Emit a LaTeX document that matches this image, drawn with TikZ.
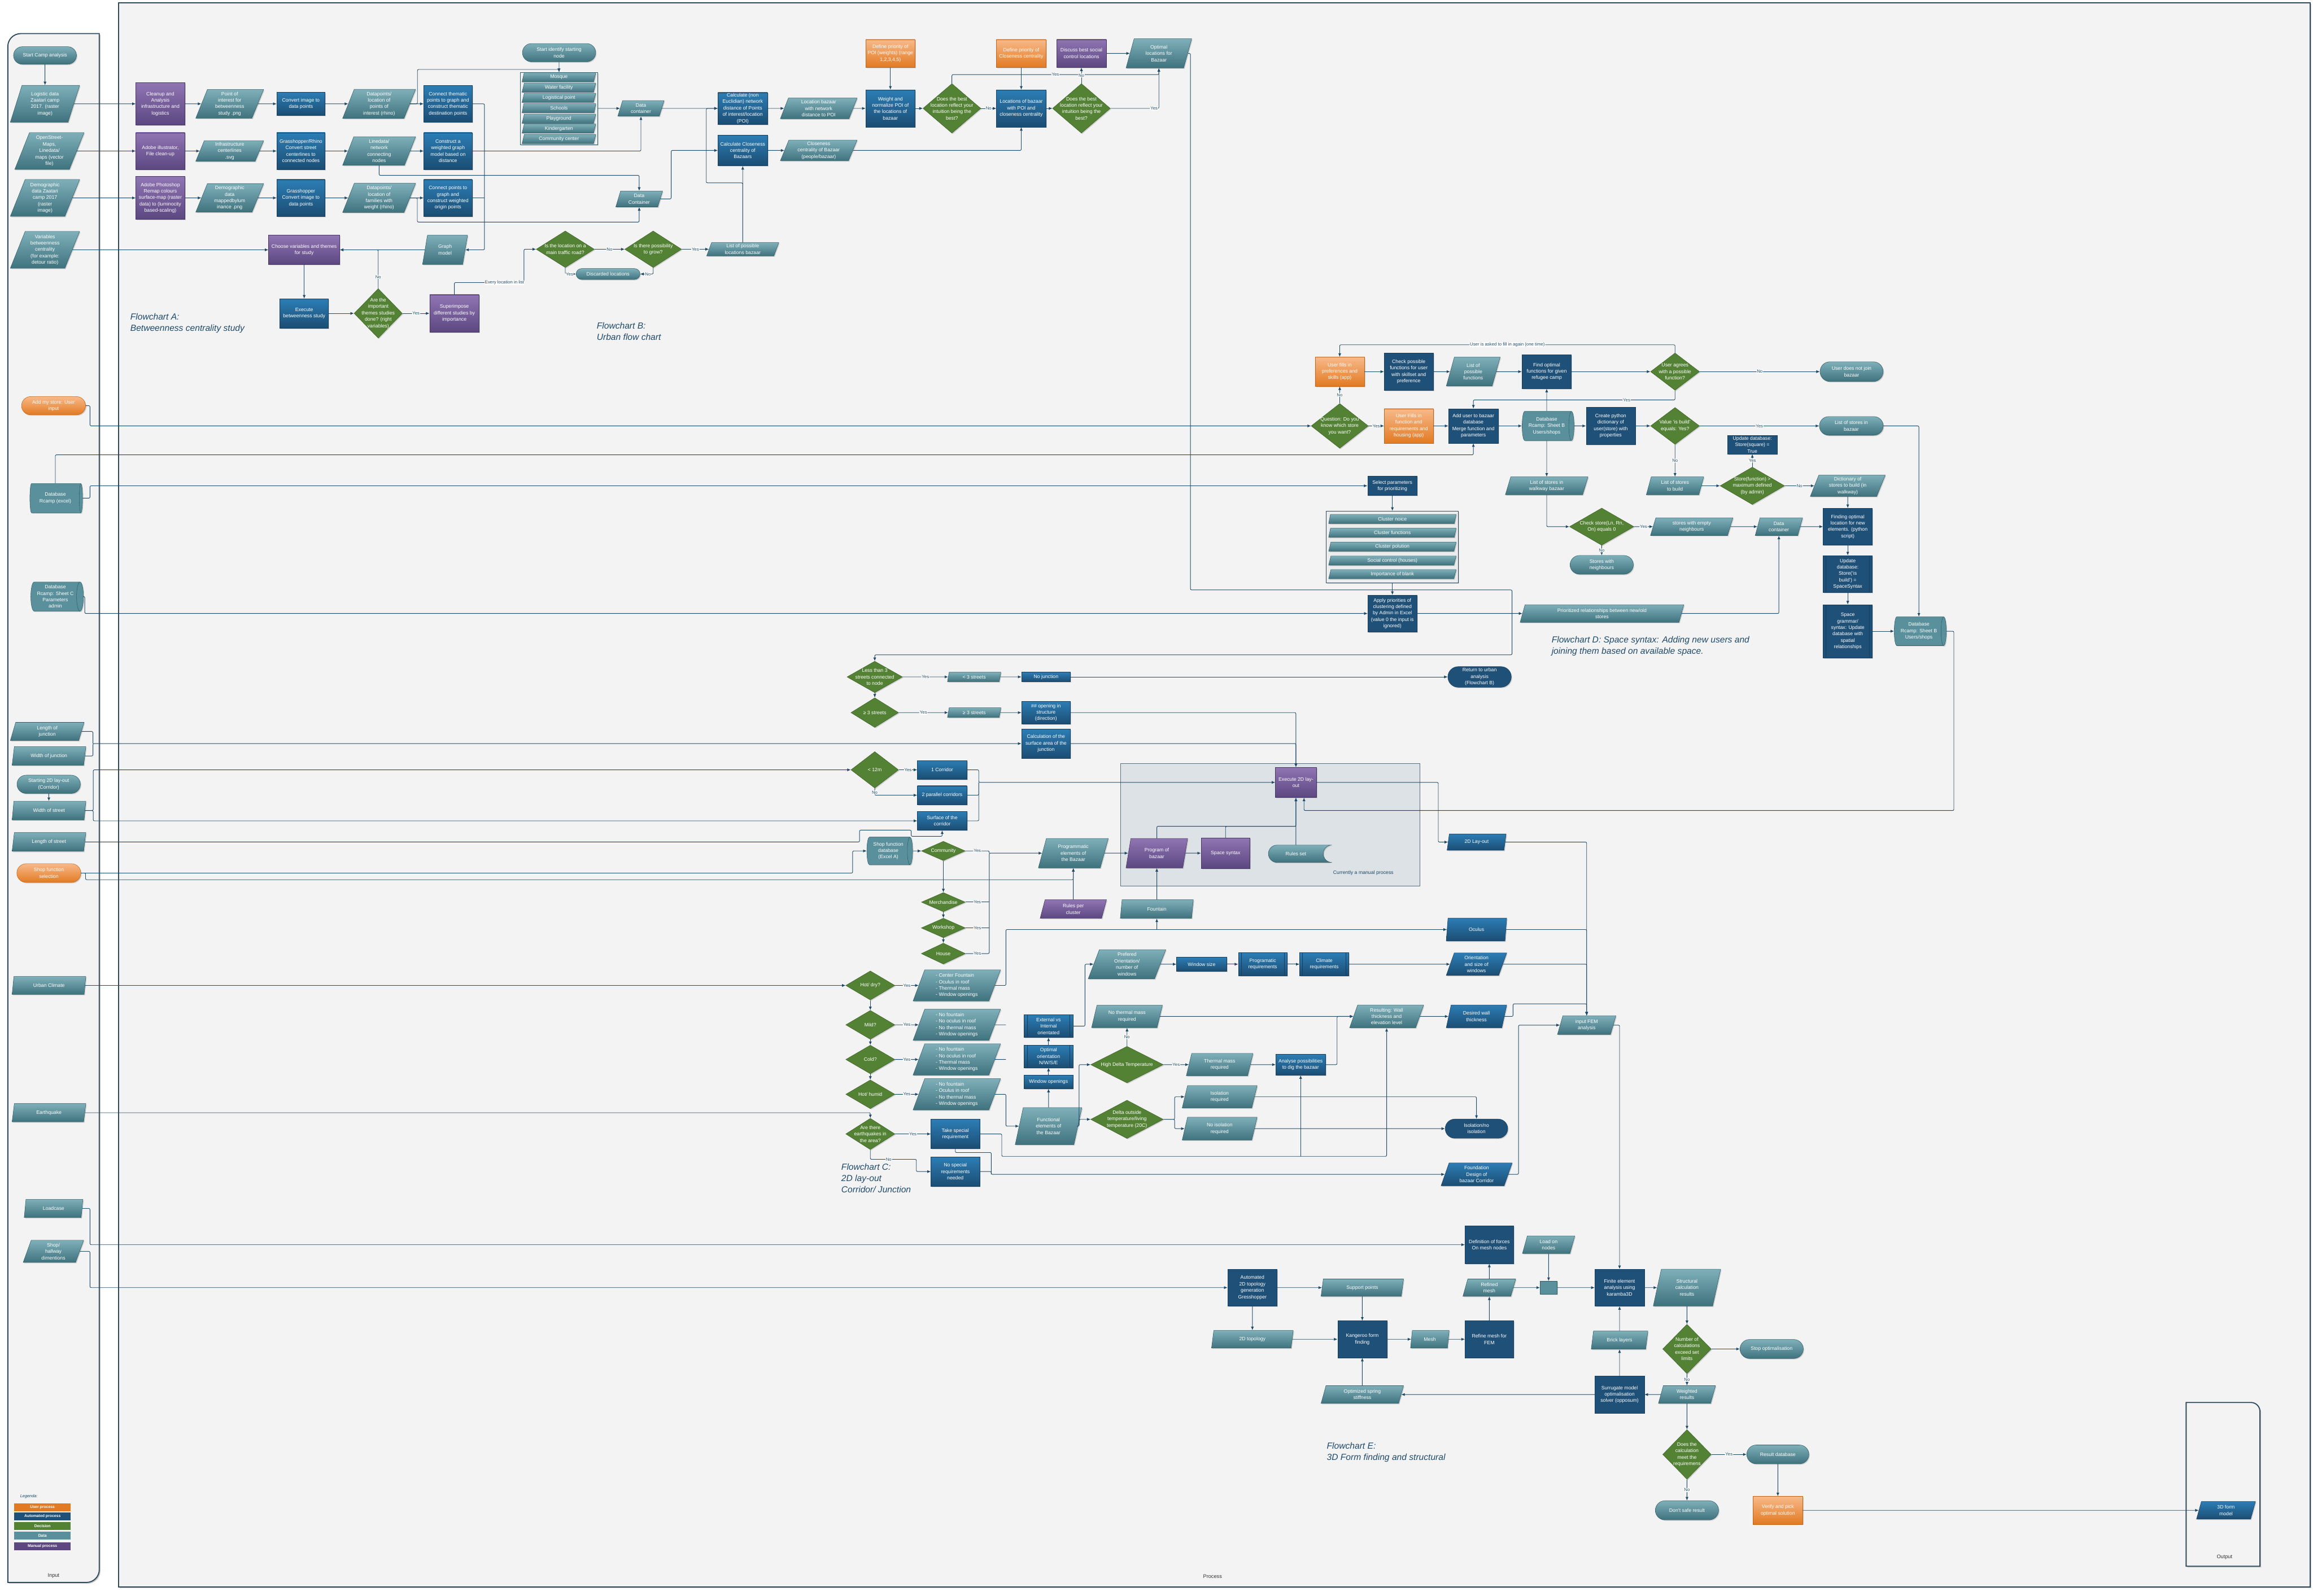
\documentclass[tikz,border=0pt]{standalone}
\usepackage{fontspec}
\setmainfont{Liberation Sans}
\usetikzlibrary{shapes.geometric,shapes.misc,arrows.meta,shadows}

\definecolor{tealtop}{HTML}{7FB0BA}
\definecolor{tealbot}{HTML}{3E727D}
\definecolor{tealmid}{HTML}{5A909B}
\definecolor{tealline}{HTML}{2F5E68}
\definecolor{bluetop}{HTML}{2C7DB5}
\definecolor{bluebot}{HTML}{1B4D73}
\definecolor{blueflat}{HTML}{1F5078}
\definecolor{blueline}{HTML}{173E5C}
\definecolor{purptop}{HTML}{9075B3}
\definecolor{purpbot}{HTML}{5C4781}
\definecolor{purpline}{HTML}{45355F}
\definecolor{greenfill}{HTML}{548235}
\definecolor{greenline}{HTML}{3D6127}
\definecolor{orangetop}{HTML}{F8B98A}
\definecolor{orangebot}{HTML}{E27A22}
\definecolor{orangeline}{HTML}{C0651A}
\definecolor{connc}{HTML}{1F4A66}
\definecolor{lanec}{HTML}{2E4A5A}
\definecolor{headc}{HTML}{1F4A6A}
\definecolor{procbg}{HTML}{F3F3F3}
\definecolor{manualbg}{HTML}{DDE2E7}

\newcommand\nodefont{\fontsize{9.5}{12.4}\selectfont}
\newcommand\labfont{\fontsize{8.5}{10}\selectfont}
\newcommand\headfont{\fontsize{17}{22}\selectfont\itshape}

\tikzset{
  >={Latex[length=2.4mm,width=2mm]},
  shad/.style={drop shadow={shadow xshift=0.6mm,shadow yshift=-0.6mm,opacity=0.3}},
  box/.style={font=\nodefont, text=white, align=center, line width=0.6pt, shad},
  dat/.style 2 args={box, trapezium, trapezium left angle=64, trapezium right angle=116,
    trapezium stretches body, minimum width=#1mm, minimum height=#2mm,
    inner xsep=0.3mm, inner ysep=0pt, top color=tealtop, bottom color=tealbot, draw=tealline},
  datb/.style 2 args={dat={#1}{#2}, top color=bluetop, bottom color=bluebot, draw=blueline},
  datp/.style 2 args={dat={#1}{#2}, top color=purptop, bottom color=purpbot, draw=purpline},
  datl/.style 2 args={dat={#1}{#2}, align=left},
  proc/.style 2 args={box, rectangle, minimum width=#1mm, minimum height=#2mm, inner sep=0.4mm,
    top color=bluetop, bottom color=bluebot, draw=blueline},
  flat/.style 2 args={box, rectangle, minimum width=#1mm, minimum height=#2mm, inner sep=0.4mm,
    fill=blueflat, draw=blueline},
  manual/.style 2 args={box, rectangle, minimum width=#1mm, minimum height=#2mm, inner sep=0.4mm,
    top color=purptop, bottom color=purpbot, draw=purpline},
  user/.style 2 args={box, rectangle, minimum width=#1mm, minimum height=#2mm, inner sep=0.4mm,
    top color=orangetop, bottom color=orangebot, draw=orangeline},
  decide/.style 2 args={box, diamond, minimum width=#1mm, minimum height=#2mm, inner sep=-25mm,
    fill=greenfill, draw=greenline},
  term/.style 2 args={box, rounded rectangle, minimum width=#1mm, minimum height=#2mm,
    inner xsep=-5mm, inner ysep=0pt, top color=tealtop, bottom color=tealbot, draw=tealline},
  termo/.style 2 args={term={#1}{#2}, top color=orangetop, bottom color=orangebot, draw=orangeline},
  termb/.style 2 args={box, rounded rectangle, minimum width=#1mm, minimum height=#2mm,
    inner xsep=-5mm, inner ysep=0pt, fill=blueflat, draw=blueline},
  % cylinder: height runs along the (horizontal) axis
  dbase/.style 2 args={box, cylinder, aspect=0.3, minimum height=#1mm, minimum width=#2mm,
    inner sep=0pt, fill=tealmid, draw=tealline},
  stored/.style 2 args={box, rounded rectangle, rounded rectangle right arc=concave,
    minimum width=#1mm, minimum height=#2mm, inner xsep=-5mm, inner ysep=0pt,
    top color=tealtop, bottom color=tealbot, draw=tealline},
  sidebars/.style={path picture={\draw[blueline, line width=0.6pt]
      ([xshift=2mm]path picture bounding box.north west) -- ([xshift=2mm]path picture bounding box.south west)
      ([xshift=-2mm]path picture bounding box.north east) -- ([xshift=-2mm]path picture bounding box.south east);}},
  predef/.style 2 args={proc={#1}{#2}, sidebars},
  predf/.style 2 args={flat={#1}{#2}, sidebars},
  poibar/.style={dat={50}{6.2}},
  clbar/.style={dat={86.4}{6.2}},
  conn/.style={draw=connc, line width=1pt, ->, rounded corners=0.8mm},
  wire/.style={draw=connc, line width=1pt, rounded corners=0.8mm},
  lab/.style={font=\labfont, text=connc, fill=white, inner sep=0.3mm},
  heading/.style={font=\headfont, text=headc, align=left, anchor=north west, inner sep=0pt},
  lane/.style={draw=lanec, line width=2pt, fill=procbg,
    drop shadow={shadow xshift=0.8mm,shadow yshift=-0.8mm,opacity=0.45}},
  lanelab/.style={font=\fontsize{10}{12}\selectfont, text=black!80},
  legbar/.style={font=\fontsize{7.5}{8}\selectfont\bfseries, text=white,
    minimum width=38.2mm, minimum height=5.2mm, inner sep=0pt},
}

\begin{document}
\begin{tikzpicture}[x=1mm, y=-1mm]
  \useasboundingbox (0,0) rectangle (1568,1082);
  \fill[white] (0,0) rectangle (1568,1082);

  % lanes
  \draw[lane] (80.5,2) rectangle (1566,1076);
  \draw[lane] (67.3,22.8) -- (14,22.8) arc[start angle=270, end angle=180, radius=8.7]
    -- (5.3,1073) -- (58.6,1073) arc[start angle=90, end angle=0, radius=8.7] -- cycle;
  \draw[lane] (1482,1062) -- (1482,951) -- (1526,951) arc[start angle=270, end angle=360, radius=6]
    -- (1532,1062) -- cycle;
  \node[lanelab] (inlab) at (36.3,1068.6) {Input};
  \node[lanelab] (proclab) at (822,1069) {Process};
  \node[lanelab] (outlab) at (1508,1056) {Output};

  % containers
  \draw[draw=lanec!80, line width=0.8pt, fill=manualbg] (759.5,517.7) rectangle (962.6,600.8);
  \node[font=\nodefont, text=connc] (manlab) at (924.2,591.8) {Currently a manual process};
  \node[draw=tealline, line width=0.8pt, fill=gray!12, minimum width=52.6mm, minimum height=49mm, shad] (poibox) at (378.9,73.5) {};
  \node[draw=lanec, line width=0.8pt, fill=gray!15, minimum width=89.5mm, minimum height=48.5mm, shad] (clusterbox) at (943.9,370.8) {};

  % ---------------- input lane
  \node[term={32.7}{11.9}] (startcamp) at (30.5,37.6) {Start Camp analysis};
  \node[dat={47}{25}] (logistic) at (30.5,70.4) {Logistic data\\Zaatari camp\\2017. (raster\\image)};
  \node[dat={47}{25}] (osm) at (33.5,102.4) {OpenStreet-\\Maps,\\Linedata/\\maps (vector\\file)};
  \node[dat={47}{25}] (demog) at (30.5,134.2) {Demographic\\data Zaatari\\camp 2017\\(raster\\image)};
  \node[dat={47}{25}] (variables) at (30.5,169.4) {Variables\\betweenness\\centrality\\(for example:\\detour ratio)};
  \node[termo={33.4}{12.4}] (addstore) at (36.3,275.1) {Add my store: User\\input};
  \node[dbase={35.7}{19.8}] (dbexcel) at (37.5,337.8) {Database\\Rcamp (excel)};
  \node[dbase={35.7}{19.8}] (dbsheetc) at (37.5,404.5) {Database\\Rcamp: Sheet C\\Parameters\\admin};
  \node[dat={50}{12.4}] (lenjunc) at (32,496) {Length of\\junction};
  \node[dat={50}{12.7}] (widjunc) at (33.2,512.6) {Width of junction};
  \node[term={33}{12.4}] (start2d) at (33,531.8) {Starting 2D lay-out\\(Corridor)};
  \node[dat={50}{12.7}] (widstreet) at (33.2,549.6) {Width of street};
  \node[dat={50}{12.7}] (lenstreet) at (33.2,570.9) {Length of street};
  \node[termo={33.4}{12.7}] (shopfn) at (33.1,592) {Shop function\\selection};
  \node[dat={50}{12.2}] (urbclim) at (33.2,668.2) {Urban Climate};
  \node[dat={50}{12.4}] (earthquake) at (33.2,754.5) {Earthquake};
  \node[dat={39.8}{12.4}] (loadcase) at (36.3,819.4) {Loadcase};
  \node[dat={41}{15}] (shophall) at (36.2,848.5) {Shop/\\hallway\\dimentions};

  % legend
  \node[font=\fontsize{8}{10}\selectfont\itshape, text=connc, anchor=west] (legtitle) at (12.5,1014.8) {Legenda:};
  \foreach \y/\c/\t [count=\i] in {1022/orangebot/User process, 1028.3/blueflat/Automated process,
      1034.7/greenfill/Decision, 1041.3/tealmid/Data / file, 1048.4/purpbot/Manual process}
    \node[legbar, fill=\c] (leg\i) at (28.8,\y) {\t};

  % ---------------- flowchart A
  \node[manual={33.2}{28.7}] (cleanup) at (108.7,70.4) {Cleanup and\\Analysis\\infrastructure and\\logistics};
  \node[manual={33.2}{25}] (adobeill) at (108.7,102.4) {Adobe illustrator,\\File clean-up};
  \node[manual={33.2}{29}] (photoshop) at (108.7,134.2) {Adobe Photoshop\\Remap colours\\surface-map (raster\\data) to (luminocity\\based-scaling)};
  \node[dat={46}{19.5}] (poi) at (155.7,70.4) {Point of\\interest for\\betweenness\\study .png};
  \node[dat={46}{14}] (infra) at (155.7,102.4) {Infrastructure\\centerlines\\.svg};
  \node[dat={46}{19.4}] (demogmap) at (155.7,134.2) {Demographic\\data\\mappedbylum\\inance .png};
  \node[proc={32.7}{15.5}] (convimg) at (204,70.4) {Convert image to\\data points};
  \node[proc={32.7}{25}] (ghrhino) at (204,102.4) {Grasshopper/Rhino\\Convert street\\centerlines to\\connected nodes};
  \node[proc={32.7}{25}] (ghconv) at (204,134.2) {Grasshopper\\Convert image to\\data points};
  \node[dat={49.5}{19.8}] (dp1) at (257,70.4) {Datapoints/\\location of\\points of\\interest (rhino)};
  \node[dat={49.5}{19.4}] (linedata) at (257,102.4) {Linedata/\\network\\connecting\\nodes};
  \node[dat={49.5}{19.8}] (dp2) at (257,134.2) {Datapoints/\\location of\\families with\\weight (rhino)};
  \node[manual={48.2}{19.8}] (choose) at (206.2,169.4) {Choose variables and themes\\for study};
  \node[proc={33}{19.8}] (execute) at (206.2,212.5) {Execute\\betweenness study};
  \node[decide={32.7}{33.6}] (themes) at (256.4,212.5) {Are the\\important\\themes studies\\done? (right\\variables)};
  \node[heading] (headA) at (88.3,212.5) {Flowchart A:\\Betweenness centrality study};

  % ---------------- flowchart B
  \node[term={39.7}{12.4}] (startnode) at (379,35.7) {Start identify starting\\node};
  \foreach \y/\t [count=\i] in {52.4/Mosque, 59.4/Water facility, 66.3/Logistical point, 73.4/Schools,
      80.5/Playground, 87.2/Kindergarten, 94.3/Community center}
    \node[poibar] (poi\i) at (378.9,\y) {\t};
  \node[dat={31.4}{10.6}] (datacont1) at (434.5,73.5) {Data\\container};
  \node[proc={32.8}{25}] (connthem) at (303.7,70.4) {Connect thematic\\points to graph and\\construct thematic\\destination points};
  \node[proc={32.8}{25}] (constwg) at (303.7,102.4) {Construct a\\weighted graph\\model based on\\distance};
  \node[proc={32.8}{25}] (connpts) at (303.7,134.2) {Connect points to\\graph and\\construct weighted\\origin points};
  \node[dat={31.7}{10.8}] (datacont2) at (433.3,134.9) {Data\\Container};
  \node[dat={30.5}{19.8}] (graphmodel) at (301.7,169.4) {Graph\\model};
  \node[proc={33.6}{21.5}] (calcnet) at (503.5,73.5) {Calculate (non\\Euclidian) network\\distance of Points\\of interest/location\\(POI)};
  \node[proc={33.6}{20.9}] (calcclose) at (503.5,102) {Calculate Closeness\\centrality of\\Bazaars};
  \node[decide={39.4}{24.8}] (trafficq) at (383.2,169) {Is the location on a\\main traffic road?};
  \node[decide={38.5}{24.8}] (growq) at (442.8,169) {Is there possibility\\to grow?};
  \node[term={33.3}{7.4}] (discarded) at (412.2,185.8) {Discarded locations};
  \node[dat={48.9}{9}] (listbazaar) at (503.5,169) {List of possible\\locations bazaar};
  \node[manual={33.5}{25.4}] (superimpose) at (308,212.5) {Superimpose\\different studies by\\importance};
  \node[dat={52}{14}] (locbazaar) at (555,73.5) {Location bazaar\\with network\\distance to POI};
  \node[dat={52}{14}] (closebaz) at (555,102) {Closeness\\centrality of Bazaar\\(people/bazaar)};
  \node[user={33.4}{18.9}] (defpoi) at (603.6,36.2) {Define priority of\\POI (weights) (range\\1,2,3,4,5)};
  \node[proc={33.4}{25.2}] (weight) at (603.6,73.5) {Weight and\\normalize POI of\\the locations of\\bazaar};
  \node[decide={39.2}{33.6}] (int1) at (645.3,73.5) {Does the best\\location reflect your\\intuition being the\\best?};
  \node[user={33.5}{18.9}] (defclose) at (692.3,36.2) {Define priority of\\Closeness centrality};
  \node[proc={33.5}{25.2}] (locpoi) at (692.3,73.5) {Locations of bazaar\\with POI and\\closeness centrality};
  \node[decide={39.2}{33.6}] (int2) at (733.1,73.5) {Does the best\\location reflect your\\intuition being the\\best?};
  \node[manual={33.5}{18.9}] (discuss) at (733.1,36.2) {Discuss best social\\control locations};
  \node[dat={44.5}{19.8}] (optimal) at (785.6,36.2) {Optimal\\locations for\\Bazaar};
  \node[heading] (headB) at (404.5,218.5) {Flowchart B:\\Urban flow chart};

  % ---------------- flowchart D
  \node[user={33.3}{19.8}] (userfills) at (908.2,252) {User fills in\\preferences and\\skills (app)};
  \node[flat={33.3}{25}] (checkfn) at (955,252) {Check possible\\functions for user\\with skillset and\\preference};
  \node[dat={36.5}{19.6}] (listfn) at (998.7,252) {List of\\possible\\functions};
  \node[flat={33.5}{23}] (findopt) at (1048.5,252) {Find optimal\\functions for given\\refugee camp};
  \node[decide={33.2}{25.3}] (agrees) at (1135.5,252) {User agrees\\with a possible\\function?};
  \node[term={32.8}{13.4}] (notjoin) at (1255.2,252) {User does not join\\bazaar};
  \node[decide={38.7}{30.4}] (question) at (908.2,288.8) {Question: Do you\\know which store\\you want?};
  \node[user={33.3}{23.3}] (userfills2) at (955,288.8) {User Fills in\\function and\\requirements and\\housing (app)};
  \node[flat={33.6}{23.3}] (adduser) at (998.8,288.8) {Add user to bazaar\\database\\Merge function and\\parameters};
  \node[dbase={35.2}{19.8}] (db1) at (1048.5,288.8) {Database\\Rcamp: Sheet B\\Users/shops};
  \node[flat={33.3}{25}] (pydict) at (1091.9,288.8) {Create python\\dictionary of\\user(store) with\\properties};
  \node[decide={33.2}{25}] (value) at (1135.5,288.8) {Value ‘is build’\\equals: Yes?};
  \node[term={33.3}{12.7}] (liststoresbaz) at (1255,288.8) {List of stores in\\bazaar};
  \node[flat={33.5}{12.6}] (updatesq) at (1187.9,301.5) {Update database:\\Store(square) =\\True};
  \node[dat={38.9}{12.1}] (liststobuild) at (1135.5,329.4) {List of stores\\to build};
  \node[decide={43.7}{25.4}] (storefn) at (1187.9,329.4) {Store(function) >\\maximum defined\\(by admin)};
  \node[dat={50.8}{14.4}] (dict) at (1252.6,329.4) {Dictionary of\\stores to build (in\\walkway)};
  \node[flat={33.6}{12.9}] (selparam) at (943.9,329.4) {Select parameters\\for prioritizing};
  \foreach \y/\t [count=\i] in {351.9/Cluster noice, 361.3/Cluster functions, 370.7/Cluster polution,
      380.1/Social control (houses), 389.3/Importance of blank}
    \node[clbar] (cl\i) at (943.9,\y) {\t};
  \node[flat={33.3}{25}] (apply) at (943.9,416) {Apply priorities of\\clustering defined\\by Admin in Excel\\(value 0 the input is\\ignored)};
  \node[dat={111}{12}] (prioritized) at (1086,416) {Prioritized relationships between new/old\\stores};
  \node[dat={56}{12.1}] (liststores) at (1048.5,329.4) {List of stores in\\walkway bazaar};
  \node[decide={43.7}{25.2}] (checkstore) at (1085.8,357.1) {Check store(Ln, Rn,\\On) equals 0};
  \node[term={32.9}{12.7}] (neighbours) at (1085.8,383) {Stores with\\neighbours};
  \node[dat={55.9}{12}] (emptyneigh) at (1146.8,357.1) {stores with empty\\neighbours};
  \node[dat={32.1}{12}] (datacont3) at (1205.9,357.1) {Data\\container};
  \node[flat={33.4}{25}] (findloc) at (1252.6,357.1) {Finding optimal\\location for new\\elements. (python\\script)};
  \node[predf={33.4}{25}] (updbuild) at (1252.6,389.2) {Update\\database:\\Store(‘is\\build’) =\\SpaceSyntax};
  \node[predf={33.4}{36}] (spacegram) at (1252.6,428) {Space\\grammar/\\syntax: Update\\database with\\spatial\\relationships};
  \node[dbase={35.3}{19.5}] (db2) at (1300.8,428) {Database\\Rcamp: Sheet B\\Users/shops};
  \node[heading] (headD) at (1051.8,431.5) {Flowchart D: Space syntax: Adding new users and\\joining them based on available space.};

  % ---------------- flowchart C
  \node[decide={37.6}{21.3}] (less3) at (593,459) {Less than 3\\streets connected\\to node};
  \node[dat={36.2}{6.5}] (lt3) at (660.4,459) {< 3 streets};
  \node[proc={33.1}{6.5}] (nojunc) at (709.1,459) {No junction};
  \node[termb={33}{14}] (returnb) at (1003,459) {Return to urban\\analysis\\(Flowchart B)};
  \node[decide={32.3}{20.1}] (ge3) at (593,483.2) {≥ 3 streets};
  \node[dat={36.2}{6.6}] (ge3para) at (660.4,483.2) {≥ 3 streets};
  \node[proc={33.1}{15.4}] (opening) at (709.1,483.2) {\#\# opening in\\structure\\(direction)};
  \node[proc={33.1}{19.7}] (surfcalc) at (709.1,504.2) {Calculation of the\\surface area of the\\junction};
  \node[decide={32.3}{24.7}] (lt12) at (593,522) {< 12m};
  \node[proc={33.6}{12.7}] (corr1) at (638.7,522) {1 Corridor};
  \node[proc={33.6}{12.7}] (corr2) at (638.7,539.2) {2 parallel corridors};
  \node[proc={33.6}{12.7}] (surfcorr) at (638.7,556.6) {Surface of the\\corridor};
  \node[dbase={31}{18.8}] (shopdb) at (602.2,577) {Shop function\\database\\(Excel A)};
  \node[decide={29.7}{13.1}] (community) at (639.5,577) {Community};
  \node[decide={29.7}{13}] (merchandise) at (639.5,611.7) {Merchandise};
  \node[decide={29.9}{13.2}] (workshop) at (639.5,629.2) {Workshop};
  \node[decide={29.9}{14.2}] (house) at (639.5,646.6) {House};
  \node[dat={47.4}{20}] (progelements) at (727.6,578.5) {Programmatic\\elements of\\the Bazaar};
  \node[datp={41.8}{20}] (progbazaar) at (784.2,578.5) {Program of\\bazaar};
  \node[manual={33.1}{20.5}] (spacesyn) at (830.8,578.5) {Space syntax};
  \node[stored={33.1}{11.8}] (rulesset) at (878.5,578.9) {Rules set};
  \node[manual={27.8}{20.5}] (execute2d) at (878.5,530.5) {Execute 2D lay-\\out};
  \node[datp={45}{12.6}] (rulespc) at (727.6,616.4) {Rules per\\cluster};
  \node[dat={49.5}{12.6}] (fountain) at (784.2,616.4) {Fountain};
  \node[datb={40}{11}] (layout2d) at (1001,571) {2D Lay-out};

  \node[decide={33.3}{19.7}] (hotdry) at (590,668.2) {Hot/ dry?};
  \node[decide={33.3}{19.6}] (mild) at (590,694.9) {Mild?};
  \node[decide={33.3}{19.4}] (cold) at (590,718.4) {Cold?};
  \node[decide={33.3}{19.5}] (hothumid) at (590,742) {Hot/ humid};
  \node[decide={33.3}{21.2}] (earthq) at (590,768.9) {Are there\\earthquakes in\\the area?};
  \node[datl={59.3}{21.2}] (hdpara) at (648.6,668.2) {- Center Fountain\\- Oculus in roof\\- Thermal mass\\- Window openings};
  \node[datl={59.3}{21.2}] (mildpara) at (648.6,694.9) {- No fountain\\- No oculus in roof\\- No thermal mass\\- Window openings};
  \node[datl={59.3}{21.2}] (coldpara) at (648.6,718.4) {- No fountain\\- No oculus in roof\\- Thermal mass\\- Window openings};
  \node[datl={59.3}{21.2}] (humidpara) at (648.6,742) {- No fountain\\- Oculus in roof\\- No thermal mass\\- Window openings};
  \node[proc={33}{19.8}] (takespecial) at (647.6,768.9) {Take special\\requirement};
  \node[proc={33}{19.9}] (nospecial) at (647.6,794.4) {No special\\requirements\\needed};
  \node[dat={45.2}{25.2}] (functional) at (710.8,763.6) {Functional\\elements of\\the Bazaar};
  \node[proc={33}{9.1}] (winopen) at (710.8,733.6) {Window openings};
  \node[predef={33}{15.2}] (optorient) at (710.8,716.3) {Optimal\\orientation\\N/W/S/E};
  \node[predef={33}{15.3}] (extint) at (710.8,695.8) {External vs\\Internal\\orientated};
  \node[dat={52.6}{19.8}] (prefered) at (764,653.8) {Prefered\\Orientation/\\number of\\windows};
  \node[proc={33.9}{9.5}] (winsize) at (814.6,653.8) {Window size};
  \node[predef={33}{15.5}] (progreq) at (856,653.8) {Programatic\\requirements};
  \node[predef={33.3}{15.5}] (climreq) at (897.7,653.8) {Climate\\requirements};
  \node[dat={48}{15.2}] (nothermal) at (764,689.2) {No thermal mass\\required};
  \node[decide={49.2}{24.8}] (highdelta) at (764,721.9) {High Delta Temperature};
  \node[dat={45.2}{15.2}] (thermalreq) at (826.8,721.9) {Thermal mass\\required};
  \node[proc={33.6}{14.2}] (analyse) at (881.7,721.9) {Analyse possibilities\\to dig the bazaar};
  \node[dat={50.2}{15.5}] (resulting) at (940,689.2) {Resulting: Wall\\thickness and\\elevation level};
  \node[decide={49.2}{26}] (deltaout) at (764,759) {Delta outside\\temperature/living\\temperature (20C)};
  \node[dat={50.8}{15.2}] (isolreq) at (826.8,743.7) {Isolation\\required};
  \node[dat={50.8}{15.5}] (noisol) at (826.8,765.3) {No isolation\\required};
  \node[termb={32.4}{13}] (isolation) at (1000.9,765.3) {Isolation/no\\isolation};
  \node[datb={41}{15.5}] (oculus) at (1000.9,630.3) {Oculus};
  \node[datb={41}{15.3}] (orientsize) at (1000.9,653.8) {Orientation\\and size of\\windows};
  \node[datb={41}{15.5}] (desired) at (1000.9,689.2) {Desired wall\\thickness};
  \node[datb={48.2}{15.5}] (foundation) at (1001,796.3) {Foundation\\Design of\\bazaar Corridor};
  \node[dat={39.6}{12.7}] (inputfem) at (1075.6,695.1) {input FEM\\analysis};
  \node[heading] (headC) at (570.3,789) {Flowchart C:\\2D lay-out\\Corridor/ Junction};

  % ---------------- flowchart E
  \node[flat={32.9}{25.5}] (defforces) at (1009.6,844) {Definition of forces\\On mesh nodes};
  \node[dat={35.5}{12}] (loadnodes) at (1049.8,844) {Load on\\nodes};
  \node[flat={33.5}{25}] (auto2d) at (849,873.1) {Automated\\2D topology\\generation\\Gresshopper};
  \node[dat={55.9}{11.7}] (support) at (923.5,873.1) {Support points};
  \node[dat={55.4}{12}] (topo2d) at (849,908.1) {2D topology};
  \node[flat={33.4}{25}] (kangaroo) at (923.5,908.1) {Kangeroo form\\finding};
  \node[dat={26.2}{12}] (mesh) at (969.3,908.1) {Mesh};
  \node[flat={32.9}{25}] (refine) at (1009.6,908.1) {Refine mesh for\\FEM};
  \node[dat={35.8}{11.7}] (refined) at (1009.6,873.1) {Refined\\mesh};
  \node[dbase={11.6}{8.7}] (merge) at (1049.8,873.1) {};
  \node[flat={33.5}{25}] (finite) at (1097.9,873.1) {Finite element\\analysis using\\karamba3D};
  \node[dat={45.7}{25}] (structres) at (1143.6,873.1) {Structural\\calculation\\results};
  \node[decide={32.9}{33.5}] (numcalc) at (1143.6,914.7) {Number of\\calculations\\exceed set\\limits};
  \node[term={32.9}{12.9}] (stopopt) at (1201,914.7) {Stop optimalisation};
  \node[dat={38.7}{12}] (weighted) at (1143.6,945.6) {Weighted\\results};
  \node[flat={33.5}{25}] (surrogate) at (1097.9,945.6) {Surrugate model\\optimalisation\\solver (opposum)};
  \node[dat={38.4}{12.3}] (bricks) at (1097.9,908.7) {Brick layers};
  \node[dat={55.9}{12}] (optspring) at (923.5,945.6) {Optimized spring\\stiffness};
  \node[decide={32.9}{33.7}] (doesmeet) at (1143.6,986.2) {Does the\\calculation\\meet the\\requiremens};
  \node[term={32.1}{12.8}] (resultdb) at (1205.2,986.2) {Result database};
  \node[term={32.9}{13}] (dontsafe) at (1143.6,1024.1) {Don’t safe result};
  \node[user={33.5}{18.9}] (verify) at (1205.2,1024.1) {Verify and pick\\optimal solution};
  \node[datb={40}{12}] (model3d) at (1509,1024.1) {3D form\\model};
  \node[heading] (headE) at (899.4,978) {Flowchart E:\\3D Form finding and structural};

  % ---------------- connectors A
  \foreach \a/\b in {startcamp/logistic, logistic/cleanup, cleanup/poi, poi/convimg, convimg/dp1,
      osm/adobeill, adobeill/infra, infra/ghrhino, ghrhino/linedata,
      demog/photoshop, photoshop/demogmap, demogmap/ghconv, ghconv/dp2,
      variables/choose, choose/execute, execute/themes, graphmodel/choose}
    \draw[conn] (\a) -- (\b);
  \draw[conn] (themes.north) |- node[lab, pos=0.15]{No} (choose.east);
  \draw[conn] (themes) -- node[lab]{Yes} (superimpose);

  % ---------------- connectors B
  \foreach \a/\b in {dp1/connthem, linedata/constwg, dp2/connpts, startnode/poibox, poibox/datacont1,
      datacont1/calcnet, calcnet/locbazaar, calcclose/closebaz, listbazaar/calcclose, locbazaar/weight,
      defpoi/weight, weight/int1, defclose/locpoi, locpoi/int2, discuss/optimal}
    \draw[conn] (\a) -- (\b);
  \draw[conn] (dp1.east) -| (283,47.1) -| (poibox.north);
  \draw[conn] (linedata.south) -- (257,118.9) -| (datacont2.north);
  \draw[conn] (dp2.east) -| (282.9,150.6) -| (datacont2.south);
  \draw[conn] (connthem.east) -| (328.4,169.4) -- (graphmodel);
  \draw[wire] (constwg.east) -- (328.4,102.4);
  \draw[wire] (connpts.east) -- (328.4,134.2);
  \draw[conn] (constwg.east) -| (datacont1.south);
  \draw[conn] (datacont2.east) -| (455,102) -- (calcclose);
  \draw[conn] (listbazaar.north) |- (478.8,124) |- (calcnet.west);
  \draw[conn] (superimpose.north) |- node[lab, pos=0.86]{Every location in list} (355.2,191.6) |- (trafficq.west);
  \draw[conn] (trafficq) -- node[lab]{No} (growq);
  \draw[conn] (trafficq.south) |- node[lab, pos=0.7]{Yes} (discarded.west);
  \draw[conn] (growq.south) |- node[lab, pos=0.7]{No} (discarded.east);
  \draw[conn] (growq) -- node[lab]{Yes} (listbazaar);
  \draw[conn] (int1) -- node[lab]{No} (locpoi);
  \draw[conn] (closebaz.east) -| (locpoi.south);
  \draw[conn] (int1.north) |- node[lab, pos=0.75]{Yes} (785.6,50.6) -- (optimal.south);
  \draw[conn] (int2.north) -- node[lab]{No} (discuss.south);
  \draw[conn] (int2.east) -| node[lab, pos=0.45]{Yes} (optimal.south);

  % ---------------- connectors D
  \foreach \a/\b in {userfills/checkfn, checkfn/listfn, listfn/findopt, findopt/agrees,
      userfills2/adduser, adduser/db1, db1/pydict, pydict/value, db1/findopt, db1/liststores,
      liststobuild/storefn, emptyneigh/datacont3, datacont3/findloc, dict/findloc,
      findloc/updbuild, updbuild/spacegram, spacegram/db2, selparam/clusterbox,
      clusterbox/apply, apply/prioritized}
    \draw[conn] (\a) -- (\b);
  \draw[conn] (addstore.east) -| (61,288.8) -- (question.west);
  \draw[conn] (dbexcel.north) -- (37.5,308.4) -| (adduser.south);
  \draw[conn] (dbexcel.east) -| (61,329.4) -- (selparam.west);
  \draw[conn] (dbsheetc.east) -- (57.5,404.5) |- (apply.west);
  \draw[conn] (optimal.east) -| (807,400) -| (1025,444) -| (less3.north);
  \draw[conn] (question.north) -- node[lab]{No} (userfills.south);
  \draw[conn] (question) -- node[lab]{Yes} (userfills2);
  \draw[conn] (agrees) -- node[lab]{No} (notjoin);
  \draw[conn] (agrees.south) |- node[lab, pos=0.62]{Yes} (998.8,271.2) -- (adduser.north);
  \draw[conn] (agrees.north) |- node[lab, pos=0.75]{User is asked to fill in again (one time)} (908.2,233.8) -- (userfills.north);
  \draw[conn] (value) -- node[lab]{Yes} (liststoresbaz);
  \draw[conn] (value) -- node[lab]{No} (liststobuild);
  \draw[conn] (storefn) -- node[lab]{Yes} (updatesq);
  \draw[conn] (storefn) -- node[lab]{No} (dict);
  \draw[conn] (liststores.south) |- (checkstore.west);
  \draw[conn] (checkstore) -- node[lab]{No} (neighbours);
  \draw[conn] (checkstore) -- node[lab]{Yes} (emptyneigh);
  \draw[conn] (liststoresbaz.east) -| (db2.north);
  \draw[conn] (prioritized.east) -| (datacont3.south);
  \draw[conn] (db2.east) -| (1324.5,549.6) -| ([xshift=5.5mm]execute2d.south);

  % ---------------- connectors C
  \foreach \a/\b in {less3/ge3, lt3/nojunc, nojunc/returnb, ge3para/opening, start2d/widstreet,
      shopdb/community, community/merchandise, merchandise/workshop, workshop/house,
      rulespc/progelements, fountain/progbazaar, progelements/progbazaar, progbazaar/spacesyn,
      rulesset/execute2d, urbclim/hotdry, hotdry/mild, mild/cold, cold/hothumid,
      functional/winopen, winopen/optorient, optorient/extint, prefered/winsize, winsize/progreq,
      progreq/climreq, climreq/orientsize, thermalreq/analyse, nothermal/resulting,
      resulting/desired, noisol/isolation}
    \draw[conn] (\a) -- (\b);
  \draw[conn] (less3) -- node[lab]{Yes} (lt3);
  \draw[conn] (ge3) -- node[lab]{Yes} (ge3para);
  \draw[conn] (opening.east) -| (execute2d.north);
  \draw[conn] (surfcalc.east) -| (execute2d.north);
  \draw[wire] (lenjunc.east) -| (63,504.2);
  \draw[conn] (widjunc.east) -| (63,504.2) -- (surfcalc.west);
  \draw[conn] (widstreet.east) -- (63.2,549.6) |- (lt12.west);
  \draw[conn] (widstreet.east) -- (63.2,549.6) |- (surfcorr.west);
  \draw[conn] (lt12) -- node[lab]{Yes} (corr1);
  \draw[conn] (lt12.south) |- node[lab, pos=0.3]{No} (corr2.west);
  \draw[conn] (corr1.east) -| (663.5,530.5) -- (execute2d.west);
  \draw[wire] (corr2.east) -| (663.5,530.5);
  \draw[wire] (surfcorr.east) -| (663.5,530.5);
  \draw[conn] (lenstreet.east) -| (582.7,562.9) -| (617.7,567.1) -| (surfcorr.south);
  \draw[conn] (shopfn.east) -| (578,577) -- (shopdb.west);
  \draw[conn] (shopfn.east) -| (58,596.5) -| (progelements.south);
  \draw[wire] (community.east) -- node[lab]{Yes} (670.6,577) -- (670.6,578.5);
  \draw[wire] (merchandise.east) -- node[lab]{Yes} (670.6,611.7);
  \draw[wire] (workshop.east) -- node[lab]{Yes} (670.6,629.2);
  \draw[conn] (house.east) -- node[lab]{Yes} (670.6,646.6) |- (progelements.west);
  \draw[conn] (progbazaar.north) |- (878.5,560.3) -- (execute2d.south);
  \draw[wire] (spacesyn.north) |- (878.5,560.3);
  \draw[conn] (execute2d.east) -| (975,571) -- (layout2d.west);
  \draw[conn] (layout2d.east) -| (inputfem.north);
  \foreach \a/\b in {hotdry/hdpara, mild/mildpara, cold/coldpara, hothumid/humidpara}
    \draw[conn] (\a) -- node[lab]{Yes} (\b);
  \draw[conn] (hdpara.east) -| (681.9,630.3) -- (oculus);
  \draw[wire] (mildpara.east) -- (681.9,694.9);
  \draw[wire] (coldpara.east) -- (681.9,718.4);
  \draw[conn] (humidpara.east) -| (681.9,763.6) -- (functional);
  \coordinate (fjoin) at (784.2,630.3);
  \draw[conn] (fjoin) -- (fountain.south);
  \draw[conn] (earthquake.east) -| (earthq.north);
  \draw[conn] (earthq) -- node[lab]{Yes} (takespecial);
  \draw[conn] (earthq.south) |- node[lab, pos=0.7]{No} (621.2,786.1) |- (nospecial.west);
  \draw[conn] (takespecial.east) -| (679.1,784.1) -| (resulting.south);
  \coordinate (ajoin) at (881.7,784.1);
  \draw[conn] (ajoin) -- (analyse.south);
  \draw[conn] (takespecial.south) |- (672,781.5) |- (foundation.west);
  \draw[wire] (nospecial.east) -| (672,796.3);
  \draw[conn] (extint.east) -| (735.5,653.8) -- (prefered);
  \draw[conn] (functional.east) -| (731.5,721.9) -- (highdelta);
  \draw[conn] (functional.east) -| (731.5,759) -- (deltaout);
  \draw[conn] (highdelta) -- node[lab]{No} (nothermal);
  \draw[conn] (highdelta) -- node[lab]{Yes} (thermalreq);
  \draw[conn] (analyse.east) -| (906.4,689.2) -- (resulting);
  \draw[conn] (deltaout.east) -| (796.3,743.7) -- (isolreq);
  \draw[conn] (deltaout.east) -| (796.3,765.3) -- (noisol);
  \draw[conn] (isolreq.east) -| (isolation.north);
  \draw[conn] (oculus.east) -| (inputfem.north);
  \draw[conn] (orientsize.east) -| (inputfem.north);
  \draw[conn] (desired.east) -| (1025.7,680.7) -| (inputfem.north);
  \draw[conn] (foundation.east) -| (1029.4,695.1) -- (inputfem.west);
  \draw[conn] (inputfem.east) -| (finite.north);

  % ---------------- connectors E
  \foreach \a/\b in {auto2d/support, auto2d/topo2d, topo2d/kangaroo, support/kangaroo,
      kangaroo/mesh, mesh/refine, refine/refined, refined/defforces, refined/merge,
      loadnodes/merge, merge/finite, finite/structres, structres/numcalc, numcalc/stopopt,
      weighted/surrogate, surrogate/bricks, bricks/finite, surrogate/optspring,
      optspring/kangaroo, weighted/doesmeet, resultdb/verify, verify/model3d}
    \draw[conn] (\a) -- (\b);
  \draw[conn] (loadcase.east) -| (61,844) -- (defforces.west);
  \draw[conn] (shophall.east) -| (61,873.1) -- (auto2d.west);
  \draw[conn] (numcalc) -- node[lab]{No} (weighted);
  \draw[conn] (doesmeet) -- node[lab]{Yes} (resultdb);
  \draw[conn] (doesmeet) -- node[lab]{No} (dontsafe);
\end{tikzpicture}
\end{document}
